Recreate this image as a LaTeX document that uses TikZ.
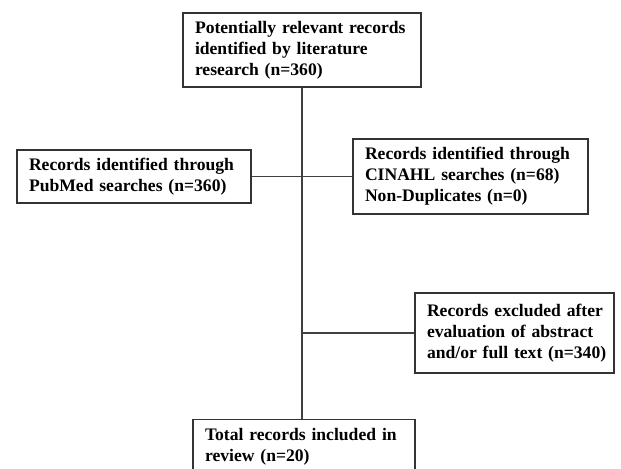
\documentclass[tikz,border=0pt]{standalone}
\usepackage{fontspec}
\setmainfont{Liberation Serif}
\usetikzlibrary{positioning}

\begin{document}
\begin{tikzpicture}[x=0.75pt,y=0.75pt,
  box/.style={draw=black!80,line width=0.9pt,align=left,inner xsep=9pt,inner ysep=0pt,
    font=\fontsize{13.2}{15.75}\selectfont\bfseries},
  link/.style={draw=black!75,line width=0.8pt}]
\clip (0,0) rectangle (621,468);
\fill[white] (0,0) rectangle (621,468);
% boxes
\node[box,text width=160.5pt,minimum height=55.5pt] (lit) at (302,418) {\mbox{Potentially relevant records}\\\mbox{identified by literature}\\\mbox{research (n=360)}};
\node[box,text width=157.5pt,minimum height=39.75pt] (pubmed) at (134,291.5) {\mbox{Records identified through}\\\mbox{PubMed searches (n=360)}};
\node[box,text width=158.25pt,minimum height=56.25pt] (cinahl) at (470.5,291.5) {\mbox{Records identified through}\\\mbox{CINAHL searches (n=68)}\\\mbox{Non-Duplicates (n=0)}};
\node[box,text width=131.25pt,minimum height=60pt] (excl) at (514.5,135) {\mbox{Records excluded after}\\\mbox{evaluation of abstract}\\\mbox{and/or full text (n=340)}};
\node[box,text width=148.5pt,inner ysep=6.75pt,anchor=north] (total) at (304,49) {\mbox{Total records included in}\\\mbox{review (n=20)}};
% connectors
\draw[link] (lit.south) -- (lit.south |- total.north);
\draw[link] (pubmed.east) -- (cinahl.west);
\draw[link] (lit.south |- excl.west) -- (excl.west);
\end{tikzpicture}
\end{document}
